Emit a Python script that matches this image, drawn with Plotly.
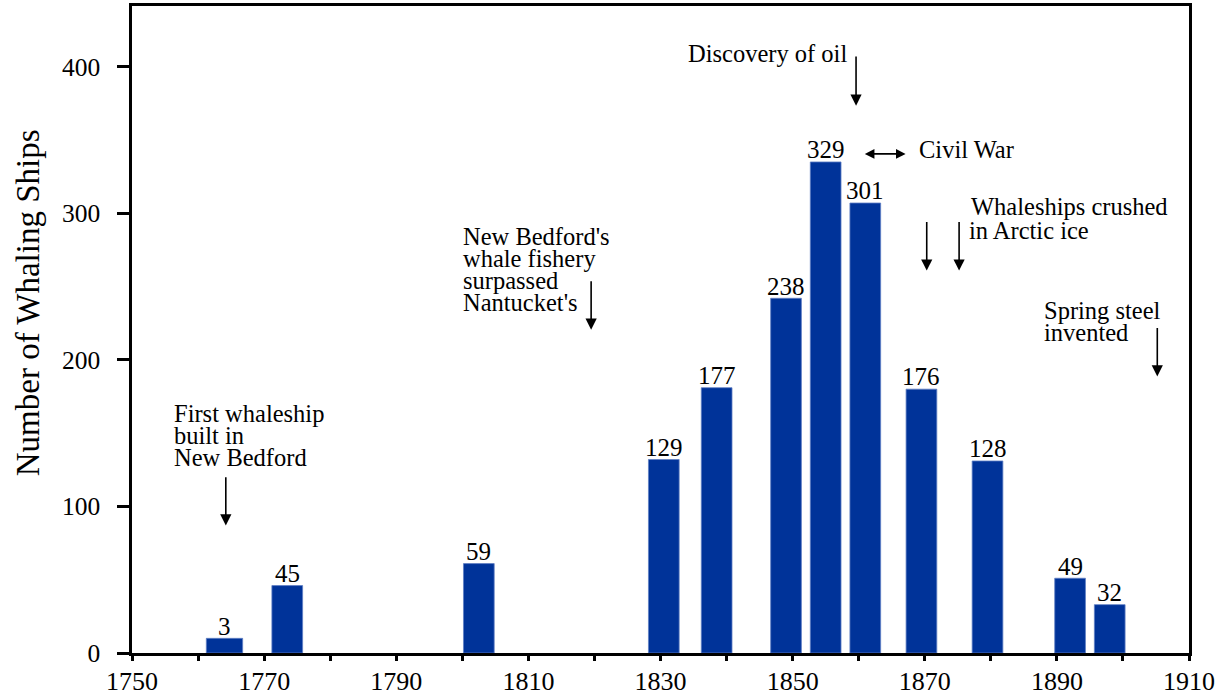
import plotly.graph_objects as go

# ---- data ----
years = [1764, 1773.5, 1802.5, 1830.5, 1838.5, 1849, 1855, 1861, 1869.5, 1879.5, 1892, 1898]
bar_heights = [10, 46, 61, 132, 181, 242, 335, 307, 180, 131, 51, 33]
bar_labels = ["3", "45", "59", "129", "177", "238", "329", "301", "176", "128", "49", "32"]
bar_widths = [5.5, 4.65, 4.65, 4.65, 4.65, 4.65, 4.65, 4.65, 4.65, 4.65, 4.65, 4.65]

x_tick_vals = [1750, 1770, 1790, 1810, 1830, 1850, 1870, 1890, 1910]
x_minor_vals = [1760, 1780, 1800, 1820, 1840, 1860, 1880, 1900]
y_tick_vals = [0, 100, 200, 300, 400]

# event notes: (text line, left year, baseline value)
note_lines = [
    ("First whaleship", 1756.2, 156.8),
    ("built in", 1756.2, 142.0),
    ("New Bedford", 1756.2, 126.8),
    ("New Bedford's", 1799.9, 277.7),
    ("whale fishery", 1799.9, 262.7),
    ("surpassed", 1799.9, 247.7),
    ("Nantucket's", 1799.9, 232.7),
    ("Discovery of oil", 1834.0, 402.7),
    ("Civil War", 1869.0, 336.9),
    ("Whaleships crushed", 1876.9, 298.2),
    ("in Arctic ice", 1876.6, 282.3),
    ("Spring steel", 1887.9, 227.3),
    ("invented", 1887.9, 212.5),
]
# down arrows: (year, tail value, tip value)
down_arrows = [
    (1764.2, 121, 87),
    (1819.5, 254.6, 220.5),
    (1859.6, 408, 373.3),
    (1870.3, 295, 260.9),
    (1875.2, 295, 260.9),
    (1905.2, 222.7, 188.6),
]
# Civil War double arrow: (start year, end year, value)
war_arrow = (1860.7, 1867.1, 340.5)

FONT = "Liberation Serif, Times New Roman, serif"

fig = go.Figure()
fig.add_trace(go.Bar(
    x=years, y=bar_heights, width=bar_widths,
    marker=dict(color="#003399", line=dict(color="#5f7fc4", width=0.8)),
    hoverinfo="skip",
))

annotations = []
for x, h, t in zip(years, bar_heights, bar_labels):
    annotations.append(dict(x=x, y=h, text=t, showarrow=False, xanchor="center",
                            yanchor="bottom", yshift=-3.3,
                            font=dict(family=FONT, size=25, color="black")))
for t, x, y in note_lines:
    annotations.append(dict(x=x, y=y, text=t, showarrow=False, xanchor="left",
                            yanchor="bottom", yshift=-6.3, xshift=-1,
                            font=dict(family=FONT, size=24.5, color="black")))
for x, y0, y1 in down_arrows:
    annotations.append(dict(x=x, y=y1, ax=x, ay=y0, axref="x", ayref="y", text="",
                            showarrow=True, arrowhead=2, arrowsize=1.4, arrowwidth=1.6,
                            arrowcolor="black", standoff=0))
annotations.append(dict(x=war_arrow[1], y=war_arrow[2], ax=war_arrow[0], ay=war_arrow[2],
                        axref="x", ayref="y", text="", showarrow=True,
                        arrowhead=2, startarrowhead=2, arrowside="end+start",
                        arrowsize=1.2, startarrowsize=1.2, arrowwidth=1.6,
                        arrowcolor="black", standoff=0, startstandoff=0))
annotations.append(dict(xref="paper", yref="paper", x=-0.0985, y=0.542,
                        text="Number of Whaling Ships", textangle=-90, showarrow=False,
                        xanchor="center", yanchor="middle",
                        font=dict(family=FONT, size=33, color="black")))

fig.update_layout(
    width=1221, height=700,
    margin=dict(l=132, r=32, t=6, b=47, autoexpand=False),
    plot_bgcolor="white", paper_bgcolor="white",
    font=dict(family=FONT, color="black"),
    showlegend=False,
    annotations=annotations,
    xaxis=dict(range=[1750, 1910], tickmode="array", tickvals=x_tick_vals,
               ticks="outside", ticklen=5, tickwidth=2.5, tickcolor="black",
               showline=True, linewidth=2.5, linecolor="black", mirror=True,
               showgrid=False, zeroline=False, ticklabelstandoff=-2, automargin=False,
               tickfont=dict(family=FONT, size=26, color="black"),
               minor=dict(tickvals=x_minor_vals, ticks="outside", ticklen=5,
                          tickwidth=2.5, tickcolor="black", showgrid=False)),
    yaxis=dict(range=[0, 441.4], tickmode="array", tickvals=y_tick_vals,
               ticks="outside", ticklen=12, tickwidth=2.5, tickcolor="black",
               showline=True, linewidth=2.5, linecolor="black", mirror=True,
               showgrid=False, zeroline=False, ticklabelstandoff=12, automargin=False,
               tickfont=dict(family=FONT, size=25.5, color="black")),
)

fig.write_html("out.html", config={"displayModeBar": False},
               post_script="document.body.style.margin='0px';document.body.style.padding='0px';")
